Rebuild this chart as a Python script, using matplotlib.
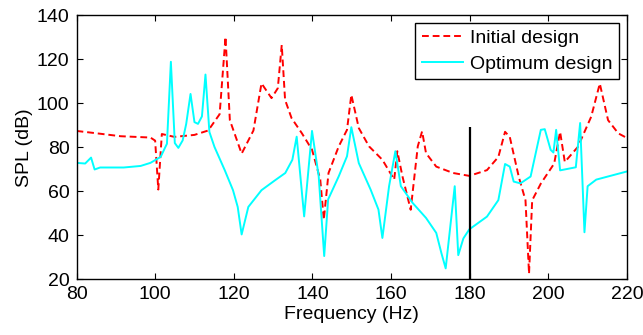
import matplotlib
matplotlib.use("Agg")
import matplotlib.pyplot as plt

plt.rcParams['font.family'] = ['Liberation Sans', 'DejaVu Sans']

# Initial design
f_init = [80, 84.3, 91.2, 98.8, 100, 100.8, 101.7, 104.9, 110, 113.5, 116.4, 117.9, 119, 122, 125,
          127.05, 129.6, 131.2, 132.2, 133.05, 134.7, 137.3, 139.9, 142.0, 142.9, 144.1, 146.7,
          148.8, 149.9, 151.8, 154.4, 157.8, 160.8, 161.6, 162.9, 165.0, 166.8, 167.9, 168.9,
          171.5, 175.8, 179.9, 184.4, 187.3, 189.0, 190.2, 192.5, 194.2, 195.1, 195.9, 198.1,
          201.5, 203.0, 204.2, 207.5, 210.9, 213.1, 215.2, 217.8, 220]
spl_init = [87.4, 86.5, 85, 84.4, 83, 60.8, 86, 84.7, 85.6, 87.6, 95, 130.1, 92.3, 77.1, 87.6,
            109, 102.3, 106.8, 126.4, 101.5, 93.2, 86.4, 78.9, 65.3, 47.1, 68.3, 80.4,
            87.9, 103.8, 88.7, 80.4, 74.3, 65.3, 78.2, 66.8, 51.6, 80.4, 87.2, 77.3,
            71.2, 68.3, 67.0, 69.6, 75.6, 87, 84.7, 66.5, 55.9, 22.6, 55.9, 63.5,
            72.6, 87, 73.3, 80.1, 93.8, 108.9, 92.3, 86.3, 84.2]

# Optimum design
f_opt = [80, 82.2, 83.7, 84.6, 86.0, 92.0, 96.3, 98.8, 101.4, 103.0, 104.0, 105.0, 105.9, 107.0,
         107.9, 109.0, 110.0, 110.9, 111.9, 112.8, 113.8, 115.1, 117.7, 119.8, 121.0, 122.0,
         123.7, 127.05, 130.5, 133.1, 134.9, 136.0, 137.9, 139.9, 141.6, 143.0, 144.0, 146.7,
         148.8, 149.9, 151.8, 154.8, 156.8, 157.8, 159.5, 161.1, 162.5, 165.5, 168.9, 171.5,
         172.8, 173.9, 176.2, 177.1, 178.4, 179.9, 184.4, 187.3, 189.0, 190.2, 191.2, 192.9,
         195.5, 198.1, 199.1, 200.6, 201.3, 202.0, 203.0, 207.0, 208.1, 209.2, 210.0, 212.2, 220]
spl_opt = [72.9, 72.6, 75.3, 69.9, 70.8, 70.8, 71.5, 72.9, 75.6, 81.6, 118.8, 81.9, 79.7, 83.1,
           90.6, 104.2, 91.4, 90.6, 94, 113, 86.9, 80.1, 69.6, 60.5, 52.9, 40.4,
           52.9, 60.5, 65, 68.3, 74.3, 84.8, 48.6, 87.4, 66.8, 30.6, 56.3, 66.8,
           75.9, 89.1, 72.8, 60.8, 51.7, 38.8, 62.3, 78.2, 62.3, 54.7, 47.9, 41.1,
           32, 25, 62.3, 31, 38.6, 42.7, 48.5, 56, 72.4, 71.2, 64.4, 63.6,
           66.7, 87.9, 88.2, 78.8, 77.6, 87.9, 69.5, 70.9, 91, 41.4, 62.3, 65.3, 69]

marker_f = 180
marker_top = 89

fig = plt.figure(figsize=(6.43, 3.35), dpi=100)
ax = fig.add_axes([0.119, 0.166, 0.856, 0.789])
ax.plot(f_init, spl_init, color='red', linestyle='--', dashes=(3.5, 2), linewidth=1.4,
        label='Initial design')
ax.plot(f_opt, spl_opt, color='cyan', linestyle='-', linewidth=1.4, label='Optimum design')
ax.vlines(marker_f, 20, marker_top, colors='black', linewidth=1.6)

ax.set_xlim(80, 220)
ax.set_ylim(20, 140)
ax.set_xticks(range(80, 221, 20))
ax.set_yticks(range(20, 141, 20))
ax.tick_params(direction='in', top=True, right=True, labelsize=14, length=4, pad=5)
ax.set_xlabel('Frequency (Hz)', fontsize=14, labelpad=2)
ax.set_ylabel('SPL (dB)', fontsize=14, labelpad=3)
for s in ax.spines.values():
    s.set_linewidth(1.0)

leg = ax.legend(loc='upper right', fontsize=14, fancybox=False, framealpha=1,
                edgecolor='black', borderaxespad=0.4, handlelength=2.1,
                borderpad=0.35, labelspacing=0.4, handletextpad=0.35)
leg.get_frame().set_linewidth(1.0)

fig.savefig('out.png', dpi=100)
